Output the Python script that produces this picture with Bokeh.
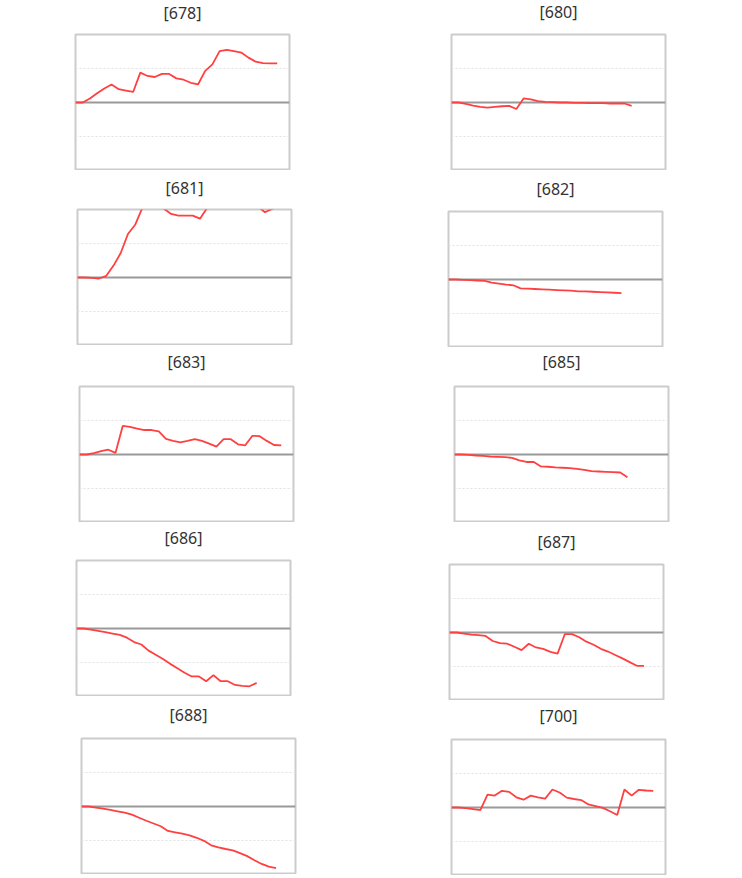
from bokeh.plotting import figure
from bokeh.layouts import column, row
from bokeh.models import Range1d, Span, FixedTicker, ColumnDataSource, Spacer
from bokeh.embed import file_html
from bokeh.resources import INLINE

# ---- data ----
panel_ids = ["678", "680", "681", "682", "683", "685", "686", "687", "688", "700"]

s678 = [0, 0, 0.12, 0.27, 0.41, 0.53, 0.39, 0.35, 0.31, 0.88, 0.78, 0.75, 0.84, 0.84,
        0.71, 0.67, 0.58, 0.53, 0.93, 1.12, 1.51, 1.55, 1.51, 1.47, 1.32, 1.20, 1.16, 1.15, 1.15]
s680 = [0, 0, -0.04, -0.09, -0.13, -0.15, -0.13, -0.11, -0.1, -0.19, 0.12, 0.09, 0.04,
        0.02, 0.01, 0.0, 0.0, -0.01, -0.01, -0.02, -0.02, -0.02, -0.03, -0.03, -0.03, -0.1]
s681 = [0, 0, -0.01, -0.03, 0.05, 0.35, 0.72, 1.28, 1.55, 2.05, 2.2, 2.15, 2.02, 1.87,
        1.82, 1.82, 1.82, 1.73, 2.05, 2.3, 2.4, 2.3, 2.4, 2.3, 2.2, 2.1, 1.92, 2.02, 2.1]
s682 = [0, 0, -0.01, -0.02, -0.03, -0.04, -0.09, -0.12, -0.15, -0.17, -0.26, -0.27, -0.28,
        -0.29, -0.3, -0.31, -0.32, -0.33, -0.35, -0.35, -0.36, -0.37, -0.38, -0.39, -0.4]
s683 = [0, 0.0, 0.04, 0.1, 0.14, 0.05, 0.84, 0.81, 0.76, 0.72, 0.72, 0.68, 0.46, 0.4,
        0.36, 0.4, 0.45, 0.4, 0.32, 0.23, 0.45, 0.45, 0.3, 0.27, 0.55, 0.54, 0.4, 0.28, 0.27]
s685 = [0, 0, -0.01, -0.03, -0.04, -0.06, -0.07, -0.08, -0.1, -0.17, -0.22, -0.22, -0.35,
        -0.36, -0.38, -0.39, -0.4, -0.42, -0.45, -0.49, -0.5, -0.51, -0.52, -0.53, -0.67]
s686 = [0, 0, -0.03, -0.07, -0.11, -0.15, -0.19, -0.27, -0.4, -0.47, -0.65, -0.77, -0.9,
        -1.04, -1.17, -1.3, -1.41, -1.41, -1.55, -1.37, -1.55, -1.55, -1.66, -1.69, -1.7, -1.6]
s687 = [0, 0, -0.03, -0.06, -0.08, -0.1, -0.25, -0.31, -0.33, -0.42, -0.52, -0.33, -0.44,
        -0.48, -0.57, -0.62, -0.05, -0.05, -0.14, -0.27, -0.36, -0.48, -0.56, -0.66, -0.76,
        -0.87, -0.98, -0.98]
s688 = [0, 0, -0.03, -0.06, -0.1, -0.14, -0.18, -0.24, -0.33, -0.42, -0.5, -0.58, -0.72,
        -0.76, -0.8, -0.85, -0.92, -1.01, -1.14, -1.2, -1.25, -1.29, -1.37, -1.46, -1.58,
        -1.69, -1.77, -1.81]
s700 = [0, 0, -0.02, -0.05, -0.08, 0.38, 0.35, 0.49, 0.46, 0.3, 0.23, 0.35, 0.3, 0.26,
        0.53, 0.44, 0.29, 0.25, 0.22, 0.09, 0.04, -0.01, -0.11, -0.22, 0.53, 0.35, 0.52,
        0.5, 0.49]

series = [s678, s680, s681, s682, s683, s685, s686, s687, s688, s700]
grid_ticks = [-1, 1]

# ---- layout (page coordinates of each plot frame: left, top) ----
frame_pos = [(75, 34), (451, 34), (77, 209), (448, 211), (79, 386),
             (454, 386), (76, 560), (449, 564), (81, 738), (451, 739)]
title_standoff = [21, 23, 21, 23, 27, 27, 23, 23, 25, 25]
TOP = 52                     # space reserved above each frame for its title
col_lefts = [0, 370]
col_widths = [370, 340]
FW, FH = 214, 136


def make_panel(i, row_top):
    c = i % 2
    fx, fy = frame_pos[i]
    L = fx - col_lefts[c]
    R = col_widths[c] - L - FW
    dy = (fy - TOP) - row_top
    p = figure(frame_width=FW, frame_height=FH, output_backend="svg",
               toolbar_location=None, x_axis_location=None, y_axis_location=None,
               x_range=Range1d(0, 29.7), y_range=Range1d(-2, 2),
               min_border_left=L, min_border_right=R,
               min_border_top=TOP, min_border_bottom=0,
               title="[" + panel_ids[i] + "]")
    p.title.align = "center"
    p.title.text_font = "Noto Sans"
    p.title.text_font_size = "16px"
    p.title.text_font_style = "normal"
    p.title.text_color = "#333333"
    p.title.standoff = title_standoff[i]
    p.outline_line_color = "#cccccc"
    p.outline_line_width = 2
    p.background_fill_color = "white"
    p.border_fill_alpha = 0
    p.xgrid.visible = False
    p.ygrid.ticker = FixedTicker(ticks=grid_ticks)
    p.ygrid.grid_line_color = "#e3e3e3"
    p.ygrid.grid_line_dash = "2 2"
    p.ygrid.grid_line_width = 1
    p.add_layout(Span(location=0, dimension="width", line_color="#999999",
                      line_width=2, level="underlay"))
    ys = series[i]
    src = ColumnDataSource(data=dict(x=list(range(len(ys))), y=ys))
    p.line("x", "y", source=src, line_color="#ff4040", line_width=1.8)
    if dy > 0:
        return column([Spacer(width=L + FW + R, height=dy), p]), dy + TOP + FH
    return column([p]), TOP + FH


rows = []
prev_bottom = 0
for k in range(5):
    row_top = min(frame_pos[2 * k][1], frame_pos[2 * k + 1][1]) - TOP
    a, ha = make_panel(2 * k, row_top)
    b, hb = make_panel(2 * k + 1, row_top)
    rows.append(row([a, b], margin=(row_top - prev_bottom, 0, 0, 0)))
    prev_bottom = row_top + max(ha, hb)

layout = column(rows)

open("out.html", "w").write(file_html(layout, INLINE))
